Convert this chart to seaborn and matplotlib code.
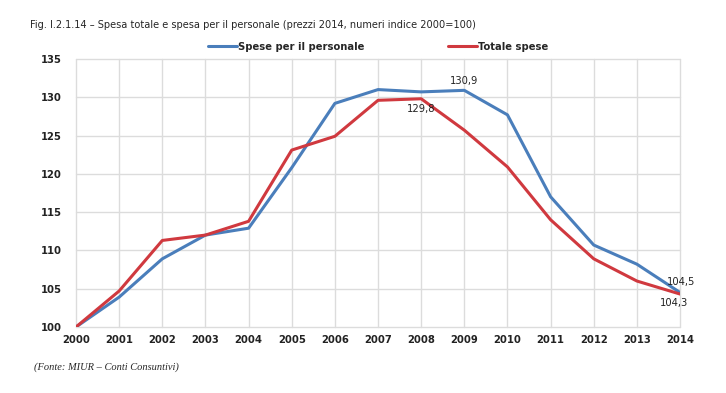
import pandas as pd
import matplotlib.pyplot as plt
import seaborn as sns

sns.set_style("whitegrid")
plt.rcParams['font.family'] = ['DejaVu Sans']

# dati (numeri indice 2000=100)
anni = list(range(2000, 2015))
personale = [100, 103.9, 108.9, 112.0, 112.9, 120.8, 129.2, 131.0, 130.7, 130.9,
             127.7, 117.0, 110.7, 108.2, 104.5]
totale = [100, 104.7, 111.3, 112.0, 113.8, 123.1, 124.9, 129.6, 129.8, 125.7,
          120.9, 114.0, 108.9, 106.0, 104.3]
serie = ['Spese per il personale', 'Totale spese']
colori = {'Spese per il personale': '#4a7ebb', 'Totale spese': '#d0393f'}

df = pd.DataFrame({
    'Anno': anni * 2,
    'Valore': personale + totale,
    'Serie': [serie[0]] * len(anni) + [serie[1]] * len(anni),
})

fig = plt.figure(figsize=(7.26, 3.93), dpi=100)
ax = fig.add_axes([0.1047, 0.168, 0.832, 0.682])

sns.lineplot(data=df, x='Anno', y='Valore', hue='Serie', palette=colori,
             linewidth=2.2, ax=ax, zorder=3)

ax.set_xlim(2000, 2014)
ax.set_ylim(100, 135)
ax.set_xticks(anni)
ax.set_yticks(range(100, 136, 5))
ax.set_xlabel('')
ax.set_ylabel('')
ax.grid(True, color='#dcdcdc', linewidth=1.0)
for gl in ax.get_xgridlines() + ax.get_ygridlines():
    gl.set_clip_on(False)
for s in ax.spines.values():
    s.set_visible(False)
ax.tick_params(length=0, labelsize=8, pad=6, labelcolor='#222222')
ax.tick_params(axis='y', pad=10)
for lab in ax.get_xticklabels() + ax.get_yticklabels():
    lab.set_fontweight('bold')
    lab.set_fontstretch('condensed')

leg = ax.legend(loc='lower center', bbox_to_anchor=(0.5, 1.0), ncol=2,
                frameon=False, fontsize=8, handlelength=2.6, handletextpad=0.1,
                columnspacing=7.5, borderaxespad=0.2)
for t in leg.get_texts():
    t.set_fontweight('bold')
    t.set_fontstretch('condensed')

# etichette dati
etichette = [('130,9', 2009, personale[9], (0, 3), 'bottom'),
             ('129,8', 2008, totale[8], (0, -4), 'top'),
             ('104,5', 2014, personale[14], (1, 4), 'bottom'),
             ('104,3', 2014, totale[14], (-4, -3), 'top')]
for txt, x, y, off, va in etichette:
    ax.annotate(txt, (x, y), xytext=off, textcoords='offset points',
                ha='center', va=va, fontsize=8, fontstretch='condensed',
                color='#222222')

fig.text(30 / 726, 1 - 25 / 393,
         'Fig. I.2.1.14 – Spesa totale e spesa per il personale (prezzi 2014, numeri indice 2000=100)',
         fontsize=7.8, fontstretch='condensed', va='center', ha='left')
fig.text(34 / 726, 1 - 367 / 393, '(Fonte: MIUR – Conti Consuntivi)',
         fontsize=7.5, style='italic', family=['Liberation Serif', 'DejaVu Serif'],
         va='center', ha='left')

fig.savefig('out.png', dpi=100)
